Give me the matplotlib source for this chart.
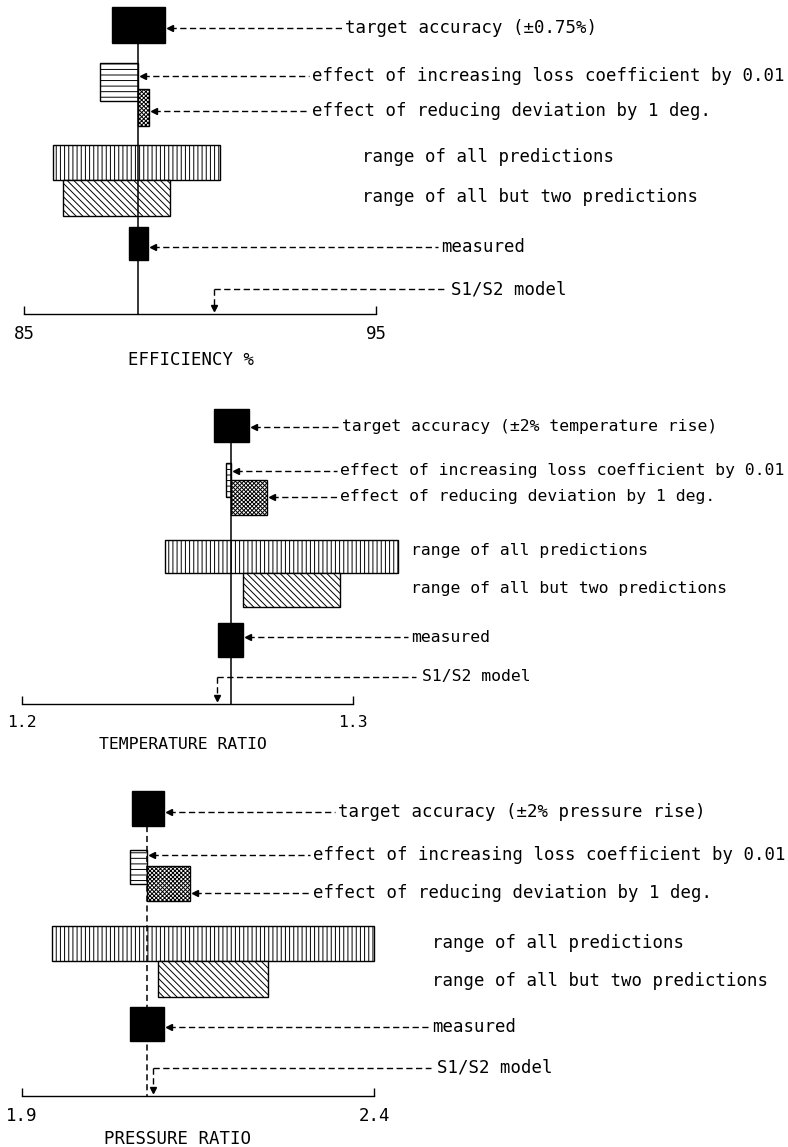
import matplotlib.pyplot as plt
from matplotlib.transforms import blended_transform_factory

plt.rcParams['font.family'] = 'DejaVu Sans Mono'
plt.rcParams['hatch.linewidth'] = 0.7

W, H = 788, 1147  # figure size in pixels (dpi 100)

labels_common = ['effect of increasing loss coefficient by 0.01',
                 'effect of reducing deviation by 1 deg.',
                 'range of all predictions',
                 'range of all but two predictions',
                 'measured',
                 'S1/S2 model']

# Panel 1 - efficiency %
eff_ticks = [85, 95]
eff_target = [87.50, 89.00]
eff_loss = [87.16, 88.24]
eff_dev = [88.24, 88.55]
eff_all = [85.82, 90.57]
eff_but2 = [86.11, 89.15]
eff_measured = [87.98, 88.52]
eff_value = 88.25
eff_s1s2 = 90.40

# Panel 2 - temperature ratio
tr_ticks = [1.2, 1.3]
tr_target = [1.2580, 1.2686]
tr_loss = [1.2616, 1.2631]
tr_dev = [1.2631, 1.2740]
tr_all = [1.2432, 1.3136]
tr_but2 = [1.2668, 1.2961]
tr_measured = [1.2591, 1.2668]
tr_value = 1.2631
tr_s1s2 = 1.2589

# Panel 3 - pressure ratio
pr_ticks = [1.9, 2.4]
pr_target = [2.0563, 2.1017]
pr_loss = [2.0534, 2.0776]
pr_dev = [2.0776, 2.1390]
pr_all = [1.9426, 2.4000]
pr_but2 = [2.0930, 2.2490]
pr_measured = [2.0534, 2.1017]
pr_value = 2.0776
pr_s1s2 = 2.0860

panels = [
    dict(ticks=eff_ticks, target=eff_target, loss=eff_loss, dev=eff_dev, all=eff_all,
         but2=eff_but2, meas=eff_measured, value=eff_value, s1s2=eff_s1s2,
         xlabel='EFFICIENCY %', target_label='target accuracy (\u00b10.75%)',
         band=(0, 380), axpx=(24, 376), axis_y=314, xlabel_pos=(191, 351),
         rows=[(7, 43), (63, 101), (89, 126), (145, 180), (180, 216), (227, 260)],
         label_y=[28, 76, 111, 157, 197, 247, 289],
         text_x=[345, 312, 312, 362, 362, 441, 451], center_style='-', fs=12.5),
    dict(ticks=tr_ticks, target=tr_target, loss=tr_loss, dev=tr_dev, all=tr_all,
         but2=tr_but2, meas=tr_measured, value=tr_value, s1s2=tr_s1s2,
         xlabel='TEMPERATURE RATIO', target_label='target accuracy (\u00b12% temperature rise)',
         band=(380, 770), axpx=(22, 353), axis_y=704, xlabel_pos=(183, 737),
         rows=[(409, 442), (463, 497), (480, 515), (540, 573), (573, 607), (623, 657)],
         label_y=[427, 471, 497, 551, 589, 637, 677],
         text_x=[342, 340, 340, 411, 411, 411, 422], center_style='-', fs=11.8),
    dict(ticks=pr_ticks, target=pr_target, loss=pr_loss, dev=pr_dev, all=pr_all,
         but2=pr_but2, meas=pr_measured, value=pr_value, s1s2=pr_s1s2,
         xlabel='PRESSURE RATIO', target_label='target accuracy (\u00b12% pressure rise)',
         band=(770, 1147), axpx=(22, 374), axis_y=1096, xlabel_pos=(177, 1130),
         rows=[(791, 826), (850, 884), (866, 901), (926, 961), (961, 997), (1007, 1041)],
         label_y=[812, 855, 893, 943, 981, 1027, 1068],
         text_x=[338, 313, 313, 432, 432, 432, 437], center_style=(0, (4, 2.5)), fs=12.5),
]

fig = plt.figure(figsize=(W / 100, H / 100), dpi=100)
fig.patch.set_facecolor('white')
dash = (0, (4.5, 2.5))

for p in panels:
    top, bot = p['band']
    x0, x1 = p['axpx']
    ax = fig.add_axes([x0 / W, 1 - bot / H, (x1 - x0) / W, (bot - top) / H])
    ax.set_xlim(p['ticks'])
    ax.set_ylim(bot, top)
    ax.patch.set_visible(False)
    for s in ['left', 'right', 'top']:
        ax.spines[s].set_visible(False)
    ax.spines['bottom'].set_position(('data', p['axis_y']))
    ax.spines['bottom'].set_linewidth(1.0)
    ax.set_yticks([])
    ax.set_xticks(p['ticks'], [str(t) for t in p['ticks']])
    ax.tick_params(axis='x', direction='in', length=6, width=1.0, pad=8, labelsize=p['fs'])
    ax.set_xlabel(p['xlabel'], fontsize=p['fs'])
    mix = blended_transform_factory(fig.transFigure, ax.transData)
    ax.xaxis.set_label_coords(p['xlabel_pos'][0] / W, p['xlabel_pos'][1], transform=mix)

    ranges = [p['target'], p['loss'], p['dev'], p['all'], p['but2'], p['meas']]
    hatches = [None, '---', 'xxxxxxxx', '||||', '\\\\\\\\\\', None]
    faces = ['black', 'white', 'white', 'white', 'white', 'black']
    for (lo, hi), (r0, r1), h, fc in zip(ranges, p['rows'], hatches, faces):
        bars = ax.barh((r0 + r1) / 2, hi - lo, left=lo, height=r1 - r0, color=fc,
                       edgecolor='black', linewidth=1.0, hatch=h, zorder=2)
        for b in bars:
            b.set_clip_on(False)

    # measured value line
    ax.plot([p['value'], p['value']], [p['rows'][0][1], p['axis_y']], color='black',
            lw=1.1, ls=p['center_style'], zorder=3, clip_on=False)

    # labels with dashed leaders
    all_labels = [p['target_label']] + labels_common
    for i, lab in enumerate(all_labels):
        ly = p['label_y'][i]
        tx = p['text_x'][i]
        ax.text(tx / W, ly, lab, transform=mix, ha='left', va='center',
                fontsize=p['fs'], clip_on=False)
        if i in (0, 1, 2, 5):
            edge = ranges[i][1]
            tip = ax.transData.transform((edge, ly))[0] + 5
            ax.plot([tip / W, (tx - 3) / W], [ly, ly], transform=mix, color='black',
                    lw=1.0, ls=dash, clip_on=False)
            ax.plot([tip / W], [ly], transform=mix, marker='<', ms=4.5, color='black',
                    clip_on=False)
    # S1/S2 model arrow
    sy = p['label_y'][6]
    sx = ax.transData.transform((p['s1s2'], sy))[0]
    ax.plot([sx / W, (p['text_x'][6] - 6) / W], [sy, sy], transform=mix, color='black',
            lw=1.0, ls=dash, clip_on=False)
    ax.plot([p['s1s2'], p['s1s2']], [sy, p['axis_y'] - 4], color='black', lw=1.0,
            ls=dash, clip_on=False)
    ax.plot([p['s1s2']], [p['axis_y'] - 6], marker='v', ms=4.5, color='black',
            clip_on=False)

fig.savefig('out.png', dpi=100)
